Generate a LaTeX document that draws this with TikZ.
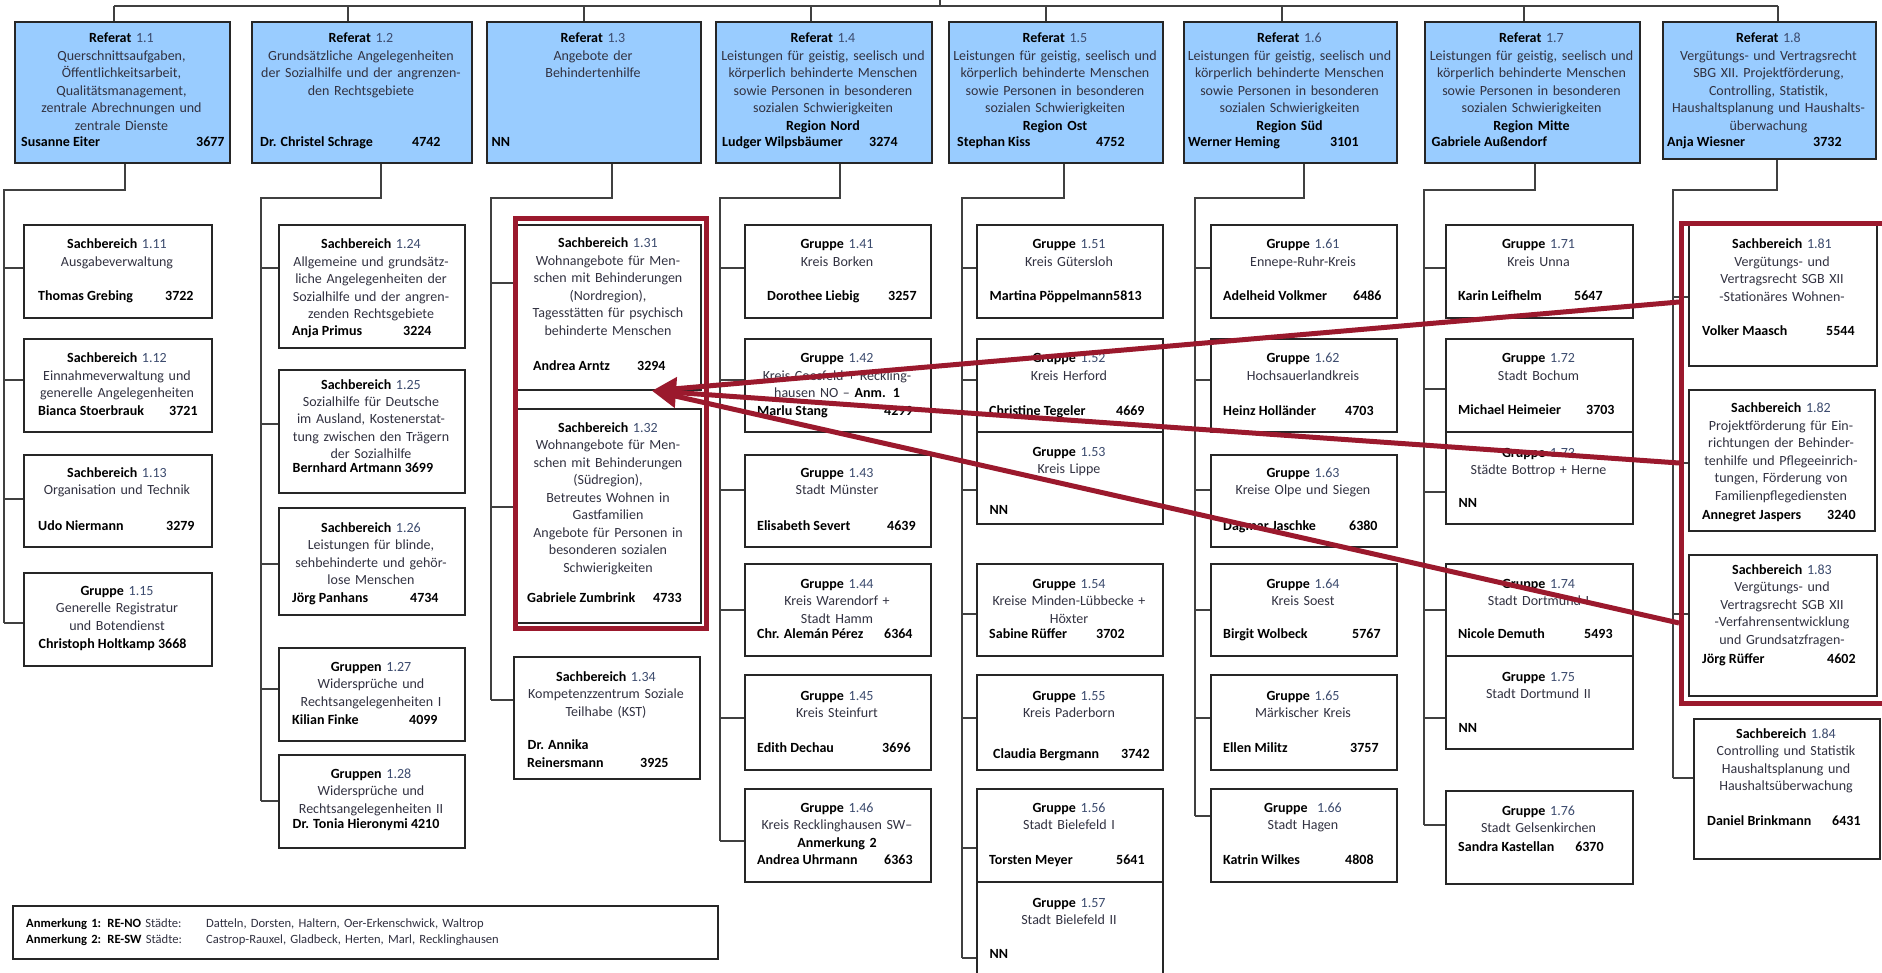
\documentclass[tikz,border=0pt]{standalone}
\usepackage{fontspec}
\setmainfont{Carlito}
\usetikzlibrary{arrows.meta}
\definecolor{refblue}{RGB}{153,204,255}
\definecolor{arrred}{RGB}{155,25,45}
\definecolor{bodyc}{RGB}{50,50,65}
\definecolor{numc}{RGB}{60,75,110}
\tikzset{
  conn/.style={draw=black!75, line width=1.5pt},
  obox/.style={draw=black!85, line width=1.8pt, inner sep=0pt, anchor=north west},
  refbox/.style={obox, fill=refblue},
  txt/.style={inner sep=0pt, align=center, anchor=base, font=\fontsize{14}{17.5}\selectfont, text=bodyc},
  nmtxt/.style={inner sep=0pt, anchor=base west, font=\fontsize{14}{17.5}\selectfont\bfseries, text=black},
  redframe/.style={draw=arrred, line width=5pt, inner sep=0pt, anchor=north west},
  redarrow/.style={draw=arrred, line width=5pt},
}
\newcommand\Bx[8][obox]{%
  \pgfmathsetmacro\bw{#5-#3}\pgfmathsetmacro\bh{#6-#4}\pgfmathsetmacro\bc{(#3+#5)/2}%
  \node[#1, minimum width=\bw pt, minimum height=\bh pt] (#2) at (#3,#4) {};
  \node[txt, text width=\bw pt] (#2t) at (\bc,#7+5) {#8};
}
\newcommand\Nm[6]{\node[nmtxt] (#1) at (#2,#3+5) {\makebox[\dimexpr#4pt-#2pt\relax][l]{#5}#6};}
\newcommand\Ti[2]{\textbf{\color{black}#1} {\color{numc}#2}}
\newcommand\Sp[5]{\draw[conn] (#1.south -| #2,0) |- (#4,#3) -- (#4,#5);}
\newcommand\St[3]{\draw[conn] (#1,#3) -- (#2.west |- 0,#3);}
\begin{document}
\begin{tikzpicture}[x=1pt,y=-1pt]
\useasboundingbox (0,0) rectangle (1882,973);
\fill[white] (0,0) rectangle (1882,973);
\clip (0,0) rectangle (1882,973);

% ---------- Referate ----------
\def\LGS{Leistungen für geistig, seelisch und\\körperlich behinderte Menschen\\sowie Personen in besonderen\\sozialen Schwierigkeiten}
\Bx[refbox]{r11}{14}{21}{229}{162}{38}{\Ti{Referat}{1.1}\\Querschnittsaufgaben,\\Öffentlichkeitsarbeit,\\Qualitätsmanagement,\\zentrale Abrechnungen und\\zentrale Dienste}
\Nm{r11n}{21}{142}{196}{Susanne Eiter}{3677}
\Bx[refbox]{r12}{251}{21}{471}{162}{38}{\Ti{Referat}{1.2}\\Grundsätzliche Angelegenheiten\\der Sozialhilfe und der angrenzen-\\den Rechtsgebiete}
\Nm{r12n}{260}{142}{412}{Dr. Christel Schrage}{4742}
\Bx[refbox]{r13}{486}{21}{700}{162}{38}{\Ti{Referat}{1.3}\\Angebote der\\Behindertenhilfe}
\Nm{r13n}{491}{142}{491}{NN}{}
\Bx[refbox]{r14}{715}{21}{931}{162}{38}{\Ti{Referat}{1.4}\\\LGS\\\textbf{\color{black}Region Nord}}
\Nm{r14n}{722}{142}{869}{Ludger Wilpsbäumer}{3274}
\Bx[refbox]{r15}{948}{21}{1162}{162}{38}{\Ti{Referat}{1.5}\\\LGS\\\textbf{\color{black}Region Ost}}
\Nm{r15n}{957}{142}{1096}{Stephan Kiss}{4752}
\Bx[refbox]{r16}{1183}{21}{1396}{162}{38}{\Ti{Referat}{1.6}\\\LGS\\\textbf{\color{black}Region Süd}}
\Nm{r16n}{1188}{142}{1330}{Werner Heming}{3101}
\Bx[refbox]{r17}{1424}{21}{1639}{162}{38}{\Ti{Referat}{1.7}\\\LGS\\\textbf{\color{black}Region Mitte}}
\Nm{r17n}{1431}{142}{1431}{Gabriele Außendorf}{}
\Bx[refbox]{r18}{1662}{21}{1875}{158}{38}{\Ti{Referat}{1.8}\\Vergütungs- und Vertragsrecht\\SBG XII. Projektförderung,\\Controlling, Statistik,\\Haushaltsplanung und Haushalts-\\überwachung}
\Nm{r18n}{1667}{142}{1813}{Anja Wiesner}{3732}

% ---------- top connectors ----------
\coordinate (top) at (940,0);
\coordinate (barL) at (114,6);
\coordinate (barR) at (1778,6);
\draw[conn] (barL) -- (barR);
\draw[conn] (top) -- (top |- barL);
\foreach \x/\n in {114/r11,348/r12,584/r13,811/r14,1046/r15,1282/r16,1524/r17,1778/r18}
  \draw[conn] (\x,6) -- (\x,6 |- \n.north);

% ---------- Column 1 ----------
\Bx{b111}{23}{224}{211}{317}{244}{\Ti{Sachbereich}{1.11}\\Ausgabeverwaltung}
\Nm{b111n}{38}{296}{165}{Thomas Grebing}{3722}
\Bx{b112}{23}{338}{211}{431}{358}{\Ti{Sachbereich}{1.12}\\Einnahmeverwaltung und\\generelle Angelegenheiten}
\Nm{b112n}{38}{411}{169}{Bianca Stoerbrauk}{3721}
\Bx{b113}{23}{454}{211}{546}{472}{\Ti{Sachbereich}{1.13}\\Organisation und Technik}
\Nm{b113n}{38}{525}{166}{Udo Niermann}{3279}
\Bx{b115}{23}{572}{211}{665}{590}{\Ti{Gruppe}{1.15}\\Generelle Registratur\\und Botendienst}
\Nm{b115n}{38}{643}{38}{Christoph Holtkamp 3668}{}
\Sp{r11}{125}{190}{4}{623}
\St{4}{b111}{268}\St{4}{b112}{380}\St{4}{b113}{499}\St{4}{b115}{623}

% ---------- Column 2 ----------
\Bx{b124}{278}{224}{464}{347}{244}{\Ti{Sachbereich}{1.24}\\Allgemeine und grundsätz-\\liche Angelegenheiten der\\Sozialhilfe und der angren-\\zenden Rechtsgebiete}
\Nm{b124n}{292}{331}{403}{Anja Primus}{3224}
\Bx{b125}{278}{369}{464}{492}{384}{\Ti{Sachbereich}{1.25}\\Sozialhilfe für Deutsche\\im Ausland, Kostenerstat-\\tung zwischen den Trägern\\der Sozialhilfe}
\Nm{b125n}{292}{467}{292}{Bernhard Artmann 3699}{}
\Bx{b126}{278}{507}{464}{614}{527}{\Ti{Sachbereich}{1.26}\\Leistungen für blinde,\\sehbehinderte und gehör-\\lose Menschen}
\Nm{b126n}{292}{597}{410}{Jörg Panhans}{4734}
\Bx{b127}{278}{647}{464}{740}{666}{\Ti{Gruppen}{1.27}\\Widersprüche und\\Rechtsangelegenheiten I}
\Nm{b127n}{292}{719}{409}{Kilian Finke}{4099}
\Bx{b128}{278}{754}{464}{847}{773}{\Ti{Gruppen}{1.28}\\Widersprüche und\\Rechtsangelegenheiten II}
\Nm{b128n}{292}{823}{292}{Dr. Tonia Hieronymi 4210}{}
\Sp{r12}{381}{198}{261}{801}
\St{261}{b124}{268}\St{261}{b125}{424}\St{261}{b126}{564}\St{261}{b127}{689}\St{261}{b128}{801}

% ---------- Column 3 ----------
\Bx{b131}{516}{224}{700}{389}{243}{\Ti{Sachbereich}{1.31}\\Wohnangebote für Men-\\schen mit Behinderungen\\(Nordregion),\\Tagesstätten für psychisch\\behinderte Menschen}
\Nm{b131n}{533}{366}{637}{Andrea Arntz}{3294}
\Bx{b132}{516}{408}{700}{622}{427}{\Ti{Sachbereich}{1.32}\\Wohnangebote für Men-\\schen mit Behinderungen\\(Südregion),\\Betreutes Wohnen in\\Gastfamilien\\Angebote für Personen in\\besonderen sozialen\\Schwierigkeiten}
\Nm{b132n}{527}{597}{653}{Gabriele Zumbrink}{4733}
\Bx{b134}{513}{656}{699}{778}{676}{\Ti{Sachbereich}{1.34}\\Kompetenzzentrum Soziale\\Teilhabe (KST)}
\Nm{b134n}{527}{744}{527}{Dr. Annika}{}
\Nm{b134m}{527}{762}{640}{Reinersmann}{3925}
\Sp{r13}{612}{198}{491}{700}
\St{491}{b131}{283}\St{491}{b132}{507}\St{491}{b134}{700}

% ---------- Column 4 ----------
\Bx{b141}{744}{224}{930}{317}{244}{\Ti{Gruppe}{1.41}\\Kreis Borken}
\Nm{b141n}{767}{296}{888}{Dorothee Liebig}{3257}
\Bx{b142}{744}{338}{930}{431}{358}{\Ti{Gruppe}{1.42}\\Kreis Coesfeld + Reckling-\\hausen NO – \textbf{\color{black}Anm. 1}}
\Nm{b142n}{757}{410}{884}{Marlu Stang}{4299}
\Bx{b143}{744}{454}{930}{546}{472}{\Ti{Gruppe}{1.43}\\Stadt Münster}
\Nm{b143n}{757}{525}{887}{Elisabeth Severt}{4639}
\Bx{b144}{744}{563}{930}{655}{583}{\Ti{Gruppe}{1.44}\\Kreis Warendorf +\\Stadt Hamm}
\Nm{b144n}{757}{633}{884}{Chr. Alemán Pérez}{6364}
\Bx{b145}{744}{674}{930}{769}{695}{\Ti{Gruppe}{1.45}\\Kreis Steinfurt}
\Nm{b145n}{757}{747}{882}{Edith Dechau}{3696}
\Bx{b146}{744}{788}{930}{881}{807}{\Ti{Gruppe}{1.46}\\Kreis Recklinghausen SW–\\\textbf{\color{black}Anmerkung 2}}
\Nm{b146n}{757}{859}{884}{Andrea Uhrmann}{6363}
\Sp{r14}{840}{198}{720}{841}
\St{720}{b141}{268}\St{720}{b142}{380}\St{720}{b143}{490}\St{720}{b144}{610}\St{720}{b145}{718}\St{720}{b146}{841}

% ---------- Column 5 ----------
\Bx{b151}{976}{224}{1162}{317}{244}{\Ti{Gruppe}{1.51}\\Kreis Gütersloh}
\Nm{b151n}{989}{296}{989}{Martina Pöppelmann5813}{}
\Bx{b152}{976}{338}{1162}{431}{358}{\Ti{Gruppe}{1.52}\\Kreis Herford}
\Nm{b152n}{989}{411}{1116}{Christine Tegeler}{4669}
\Bx{b153}{976}{431}{1162}{523}{451}{\Ti{Gruppe}{1.53}\\Kreis Lippe}
\Nm{b153n}{989}{509}{989}{NN}{}
\Bx{b154}{976}{563}{1162}{655}{583}{\Ti{Gruppe}{1.54}\\Kreise Minden-Lübbecke +\\Höxter}
\Nm{b154n}{989}{633}{1096}{Sabine Rüffer}{3702}
\Bx{b155}{976}{674}{1162}{769}{695}{\Ti{Gruppe}{1.55}\\Kreis Paderborn}
\Nm{b155n}{993}{753}{1121}{Claudia Bergmann}{3742}
\Bx{b156}{976}{788}{1162}{881}{807}{\Ti{Gruppe}{1.56}\\Stadt Bielefeld I}
\Nm{b156n}{989}{859}{1116}{Torsten Meyer}{5641}
\Bx{b157}{976}{881}{1162}{990}{902}{\Ti{Gruppe}{1.57}\\Stadt Bielefeld II}
\Nm{b157n}{989}{953}{989}{NN}{}
\Sp{r15}{1064}{198}{962}{958}
\St{962}{b151}{268}\St{962}{b152}{380}\St{962}{b153}{490}\St{962}{b154}{614}\St{962}{b155}{718}\St{962}{b156}{848}\St{962}{b157}{958}

% ---------- Column 6 ----------
\Bx{b161}{1210}{224}{1396}{317}{244}{\Ti{Gruppe}{1.61}\\Ennepe-Ruhr-Kreis}
\Nm{b161n}{1223}{296}{1353}{Adelheid Volkmer}{6486}
\Bx{b162}{1210}{338}{1396}{431}{358}{\Ti{Gruppe}{1.62}\\Hochsauerlandkreis}
\Nm{b162n}{1223}{411}{1345}{Heinz Holländer}{4703}
\Bx{b163}{1210}{454}{1396}{546}{472}{\Ti{Gruppe}{1.63}\\Kreise Olpe und Siegen}
\Nm{b163n}{1223}{525}{1349}{Dagmar Jaschke}{6380}
\Bx{b164}{1210}{563}{1396}{655}{583}{\Ti{Gruppe}{1.64}\\Kreis Soest}
\Nm{b164n}{1223}{633}{1352}{Birgit Wolbeck}{5767}
\Bx{b165}{1210}{674}{1396}{769}{695}{\Ti{Gruppe}{1.65}\\Märkischer Kreis}
\Nm{b165n}{1223}{747}{1350}{Ellen Militz}{3757}
\Bx{b166}{1210}{788}{1396}{881}{807}{\Ti{Gruppe}{\ 1.66}\\Stadt Hagen}
\Nm{b166n}{1223}{859}{1345}{Katrin Wilkes}{4808}
\Sp{r16}{1304}{198}{1195}{816}
\St{1195}{b161}{268}\St{1195}{b162}{380}\St{1195}{b163}{490}\St{1195}{b164}{610}\St{1195}{b165}{718}\St{1195}{b166}{816}

% ---------- Column 7 ----------
\Bx{b171}{1445}{224}{1632}{317}{244}{\Ti{Gruppe}{1.71}\\Kreis Unna}
\Nm{b171n}{1458}{296}{1574}{Karin Leifhelm}{5647}
\Bx{b172}{1445}{338}{1632}{431}{358}{\Ti{Gruppe}{1.72}\\Stadt Bochum}
\Nm{b172n}{1458}{409}{1586}{Michael Heimeier}{3703}
\Bx{b173}{1445}{431}{1632}{523}{452}{\Ti{Gruppe}{1.73}\\Städte Bottrop + Herne}
\Nm{b173n}{1458}{502}{1458}{NN}{}
\Bx{b174}{1445}{563}{1632}{655}{583}{\Ti{Gruppe}{1.74}\\Stadt Dortmund I}
\Nm{b174n}{1458}{633}{1584}{Nicole Demuth}{5493}
\Bx{b175}{1445}{655}{1632}{748}{676}{\Ti{Gruppe}{1.75}\\Stadt Dortmund II}
\Nm{b175n}{1458}{727}{1458}{NN}{}
\Bx{b176}{1445}{790}{1632}{883}{810}{\Ti{Gruppe}{1.76}\\Stadt Gelsenkirchen}
\Nm{b176n}{1458}{846}{1575}{Sandra Kastellan}{6370}
\Sp{r17}{1535}{190}{1424}{825}
\St{1424}{b171}{268}\St{1424}{b172}{389}\St{1424}{b173}{492}\St{1424}{b174}{610}\St{1424}{b175}{718}\St{1424}{b176}{825}

% ---------- Column 8 ----------
\Bx{b181}{1688}{224}{1876}{365}{244}{\Ti{Sachbereich}{1.81}\\Vergütungs- und\\Vertragsrecht SGB XII\\-Stationäres Wohnen-}
\Nm{b181n}{1702}{331}{1826}{Volker Maasch}{5544}
\Bx{b182}{1688}{389}{1874}{530}{408}{\Ti{Sachbereich}{1.82}\\Projektförderung für Ein-\\richtungen der Behinder-\\tenhilfe und Pflegeeinrich-\\tungen, Förderung von\\Familienpflegediensten}
\Nm{b182n}{1702}{514}{1827}{Annegret Jaspers}{3240}
\Bx{b183}{1688}{554}{1876}{695}{569}{\Ti{Sachbereich}{1.83}\\Vergütungs- und\\Vertragsrecht SGB XII\\-Verfahrensentwicklung\\und Grundsatzfragen-}
\Nm{b183n}{1702}{658}{1827}{Jörg Rüffer}{4602}
\Bx{b184}{1693}{718}{1879}{858}{733}{\Ti{Sachbereich}{1.84}\\Controlling und Statistik\\Haushaltsplanung und\\Haushaltsüberwachung}
\Nm{b184n}{1707}{820}{1832}{Daniel Brinkmann}{6431}
\Sp{r18}{1777}{190}{1673}{778}
\St{1673}{b181}{297}\St{1673}{b182}{463}\St{1673}{b183}{614}\St{1673}{b184}{778}

% ---------- Anmerkungen ----------
\node[obox, minimum width=705pt, minimum height=53pt] (ann) at (12,905) {};
\node[inner sep=0pt, anchor=base west, align=left, text width=690pt,
      font=\fontsize{12.6}{16}\selectfont, text=bodyc] (annt) at (26,927)
  {\makebox[180pt][l]{\textbf{\color{black}Anmerkung 1: RE-NO} Städte:}Datteln, Dorsten, Haltern, Oer-Erkenschwick, Waltrop\\
   \makebox[180pt][l]{\textbf{\color{black}Anmerkung 2: RE-SW} Städte:}Castrop-Rauxel, Gladbeck, Herten, Marl, Recklinghausen};

% ---------- red highlights ----------
\node[redframe, minimum width=191pt, minimum height=410pt] (rf3) at (513,216) {};
\node[redframe, minimum width=220pt, minimum height=480pt] (rf8) at (1679,221) {};
\coordinate (tip) at (b131.south -| 652,0);
\coordinate (a1) at (rf8.west |- 0,302);
\coordinate (a2) at (rf8.west |- 0,463);
\coordinate (a3) at (rf8.west |- 0,623);
\draw[redarrow, shorten >=10pt] (a1) -- (tip);
\draw[redarrow, shorten >=10pt] (a3) -- (tip);
\draw[redarrow, -{Triangle[length=24pt,width=30pt]}] (a2) -- (tip);
\end{tikzpicture}
\end{document}
